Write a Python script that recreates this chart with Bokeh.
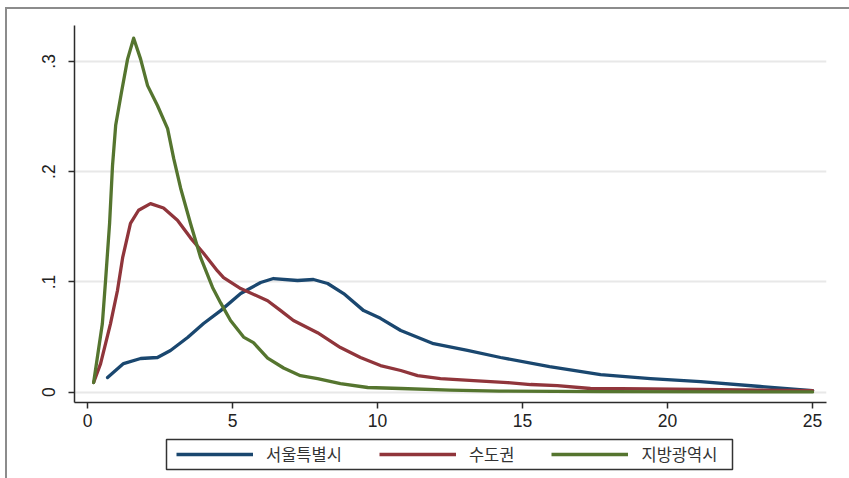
from bokeh.plotting import figure
from bokeh.layouts import column
from bokeh.models import Range1d, FixedTicker, Legend, LegendItem, BoxAnnotation
from bokeh.embed import file_html
from bokeh.resources import INLINE

# Kernel density estimates by region
series_names = ["서울특별시", "수도권", "지방광역시"]
series_colors = ["#1a476f", "#90353b", "#55752f"]

seoul_x = [0.69, 1.24, 1.83, 2.41, 2.86, 3.45, 4.0, 4.59, 5.28, 5.97, 6.41, 7.24, 7.79,
           8.28, 8.83, 9.52, 10.1, 10.8, 11.93, 13.1, 14.24, 15.93, 17.69, 19.41, 21.14,
           23.2, 25.0]
seoul_y = [0.0133, 0.026, 0.0306, 0.0315, 0.0378, 0.0496, 0.0623, 0.074, 0.0895, 0.0995,
           0.1031, 0.1013, 0.1022, 0.0986, 0.0895, 0.074, 0.067, 0.056, 0.044, 0.038,
           0.0315, 0.0233, 0.016, 0.0124, 0.0097, 0.0052, 0.0015]

capital_x = [0.21, 0.45, 0.79, 1.03, 1.21, 1.48, 1.76, 2.17, 2.62, 3.10, 3.55, 4.0, 4.48,
             4.69, 5.28, 6.21, 6.66, 7.10, 7.93, 8.72, 9.41, 10.1, 10.8, 11.38, 12.17,
             13.31, 14.48, 15.28, 16.2, 17.34, 19.4, 21.1, 23.2, 25.0]
capital_y = [0.0088, 0.026, 0.062, 0.092, 0.122, 0.153, 0.165, 0.171, 0.167, 0.156, 0.140,
             0.126, 0.110, 0.104, 0.094, 0.083, 0.074, 0.065, 0.054, 0.0405, 0.0315,
             0.0242, 0.0197, 0.0151, 0.0124, 0.0106, 0.0088, 0.007, 0.006, 0.0034, 0.003,
             0.0025, 0.002, 0.0015]

metro_x = [0.21, 0.51, 0.62, 0.76, 0.86, 0.97, 1.17, 1.38, 1.59, 1.83, 2.07, 2.41, 2.76,
           2.97, 3.21, 3.55, 3.90, 4.31, 4.59, 4.93, 5.38, 5.72, 6.21, 6.76, 7.34, 7.93,
           8.72, 9.66, 10.8, 12.5, 14.2, 17.7, 25.0]
metro_y = [0.0088, 0.062, 0.101, 0.153, 0.205, 0.242, 0.272, 0.302, 0.321, 0.302, 0.278,
           0.260, 0.239, 0.212, 0.185, 0.153, 0.122, 0.095, 0.081, 0.065, 0.050, 0.045,
           0.031, 0.022, 0.015, 0.0124, 0.0079, 0.0043, 0.0034, 0.002, 0.001, 0.0006,
           0.0003]

x_ticks = [0, 5, 10, 15, 20, 25]
x_tick_labels = ["0", "5", "10", "15", "20", "25"]
y_ticks = [0, 0.1, 0.2, 0.3]
y_tick_labels = ["0", ".1", ".2", ".3"]

series = [(seoul_x, seoul_y), (capital_x, capital_y), (metro_x, metro_y)]

# ---- main density plot ----
p = figure(width=849, height=432, output_backend="svg", toolbar_location=None,
           x_range=Range1d(-0.45, 25.48), y_range=Range1d(-0.0093, 0.3325),
           min_border_left=74, min_border_right=23, min_border_top=25,
           min_border_bottom=30)
p.outline_line_color = None
p.background_fill_color = "white"
p.border_fill_color = "white"

p.xgrid.visible = False
p.ygrid.ticker = FixedTicker(ticks=y_ticks)
p.ygrid.grid_line_color = "#e8e8e8"
p.ygrid.grid_line_width = 2

for ax in (p.xaxis[0], p.yaxis[0]):
    ax.axis_line_color = "#2b2b2b"
    ax.axis_line_width = 1.5
    ax.major_tick_line_color = "#2b2b2b"
    ax.major_tick_line_width = 1.5
    ax.major_tick_out = 6
    ax.major_tick_in = 0
    ax.minor_tick_line_color = None
    ax.major_label_text_font = "Liberation Sans"
    ax.major_label_text_font_size = "17.5px"
    ax.major_label_text_color = "#222222"

p.xaxis.ticker = FixedTicker(ticks=x_ticks)
p.xaxis.major_label_overrides = {t: s for t, s in zip(x_ticks, x_tick_labels)}
p.xaxis.major_label_standoff = 5
p.yaxis.ticker = FixedTicker(ticks=y_ticks)
p.yaxis.major_label_overrides = {t: s for t, s in zip(y_ticks, y_tick_labels)}
p.yaxis.major_label_orientation = "vertical"
p.yaxis.major_label_standoff = 13

for (xs, ys), color in zip(series, series_colors):
    p.line(xs, ys, line_color=color, line_width=3.3, line_join="round",
           line_cap="round")

# ---- legend strip below the plot (its frame lines up with the plot frame) ----
lf = figure(width=849, height=46, output_backend="svg", toolbar_location=None,
            x_range=Range1d(74, 826), y_range=Range1d(0, 46), min_border=0,
            x_axis_type=None, y_axis_type=None)
lf.outline_line_color = None
lf.background_fill_color = "white"
lf.border_fill_color = "white"

lf.add_layout(BoxAnnotation(left=166, right=732, bottom=9, top=39,
                            fill_color=None, fill_alpha=0, line_color="#333333",
                            line_alpha=1.0, line_width=1.5))

nan = float("nan")
keys = [lf.line(x=[nan], y=[nan], line_color=c, line_width=3.3) for c in series_colors]
legend = Legend(
    items=[LegendItem(label=n, renderers=[r]) for n, r in zip(series_names, keys)],
    orientation="horizontal", location=(102, 12), margin=0, padding=0,
    glyph_width=77, glyph_height=16, label_height=16, label_standoff=13, spacing=37,
    label_text_font="Noto Sans CJK KR", label_text_font_size="16.5px",
    label_text_color="#333333", border_line_color=None,
    background_fill_alpha=0,
)
lf.add_layout(legend, "center")

# gray graph-region frame along the top and left edges
layout = column(p, lf, spacing=0, stylesheets=[
    ":host::after { content: ''; position: absolute; left: 5px; top: 7px; right: 0; "
    "bottom: 0; border-left: 2px solid #8c8c8c; border-top: 2px solid #8c8c8c; "
    "pointer-events: none; }"
])

open("out.html", "w").write(file_html(layout, INLINE))
